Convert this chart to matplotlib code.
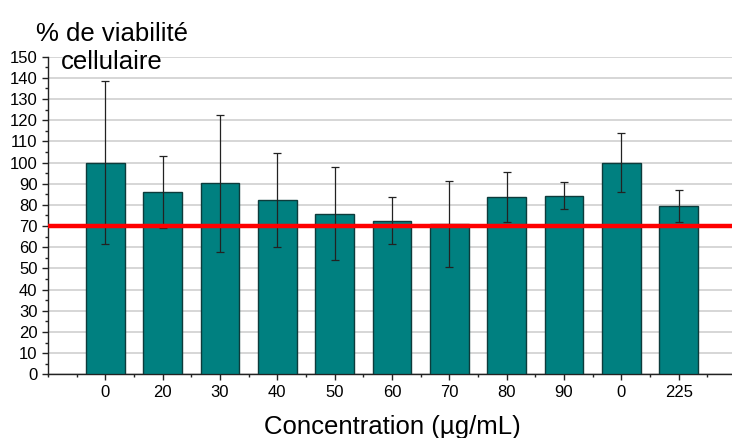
import numpy as np
import matplotlib
matplotlib.use("Agg")
import matplotlib.pyplot as plt
from matplotlib.ticker import MultipleLocator

plt.rcParams["font.family"] = ["Liberation Sans", "DejaVu Sans"]

# ── Data ───────────────────────────────────────────────────────────────────────
concentrations = ["0", "20", "30", "40", "50", "60", "70", "80", "90", "0", "225"]
viability      = [100, 86.1, 90.2, 82.3, 75.9, 72.6, 71.2, 83.6, 84.4, 100, 79.6]
viability_err  = [38.7, 17.2, 32.3, 22.1, 21.8, 11.2, 20.3, 11.9, 6.2, 13.9, 7.6]
threshold      = 70

# ── Plot ───────────────────────────────────────────────────────────────────────
fig = plt.figure(figsize=(7.32, 4.38), dpi=100)
ax = fig.add_axes([0.0656, 0.1455, 0.9344, 0.725])

x = np.arange(len(concentrations))
ax.bar(x, viability, width=0.67, color="#008080", edgecolor="#0d3b3b",
       linewidth=1.0, zorder=3)
ax.errorbar(x, viability, yerr=viability_err, fmt="none", ecolor="#222222",
            elinewidth=0.9, capsize=3, capthick=0.9, zorder=4)
ax.axhline(threshold, color="#ff0000", linewidth=3.2, zorder=5)

ax.set_xlim(-1, 10.93)
ax.set_ylim(0, 150)
ax.set_xticks(x)
ax.set_xticklabels(concentrations)
ax.xaxis.set_minor_locator(MultipleLocator(0.5))
ax.yaxis.set_major_locator(MultipleLocator(10))
ax.yaxis.set_minor_locator(MultipleLocator(5))

ax.tick_params(axis="both", which="major", direction="out", length=4,
               width=1, labelsize=12, color="#222222")
ax.tick_params(axis="both", which="minor", direction="out", length=2.5,
               width=1, color="#222222")
ax.tick_params(axis="x", pad=4)
ax.tick_params(axis="y", pad=3.5)

for side in ["top", "right"]:
    ax.spines[side].set_visible(False)
for side in ["left", "bottom"]:
    ax.spines[side].set_color("#222222")
    ax.spines[side].set_linewidth(1.0)

ax.yaxis.grid(True, color="#d0d0d0", linewidth=1.2, zorder=0)
ax.set_axisbelow(True)
gl = ax.get_ygridlines()
gl[0].set_visible(False)
gl[-1].set_visible(False)

fig.text(112 / 732, 1 - 69 / 438, "% de viabilité\ncellulaire",
         ha="center", va="baseline", multialignment="center",
         fontsize=18.5, linespacing=1.2)
fig.text(392 / 732, 1 - 434 / 438, "Concentration (µg/mL)",
         ha="center", va="baseline", fontsize=18.5)

fig.savefig("out.png", dpi=100)
